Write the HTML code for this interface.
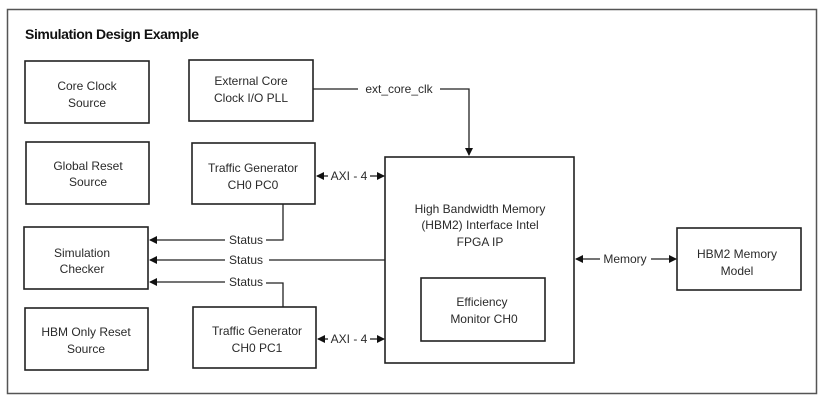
<!DOCTYPE html>
<html><head><style>
body{margin:0;background:#fff;}
svg text{font-family:"Liberation Sans",sans-serif;font-size:12px;fill:#2a2a2a;}
</style></head><body>
<svg width="826" height="406" xmlns="http://www.w3.org/2000/svg">
<defs><marker id="a" markerWidth="8" markerHeight="8" refX="7" refY="4" orient="auto" markerUnits="userSpaceOnUse"><path d="M0,0 L8,4 L0,8 z" fill="#111"/></marker></defs>
<rect x="7.5" y="9.5" width="809" height="384" fill="none" stroke="#555" stroke-width="1.5"/>
<text x="25" y="39" style="font-weight:bold;font-size:14px;fill:#111;letter-spacing:-0.4px">Simulation Design Example</text>
<g fill="none" stroke="#222" stroke-width="1.6">
<rect x="25" y="61" width="124" height="62"/>
<rect x="189" y="60" width="124" height="61"/>
<rect x="26" y="142" width="123" height="62"/>
<rect x="192" y="143" width="123" height="61"/>
<rect x="24" y="227" width="124" height="62"/>
<rect x="25" y="308" width="123" height="62"/>
<rect x="193" y="307" width="123" height="61"/>
<rect x="385" y="157" width="189" height="206"/>
<rect x="421" y="278" width="124" height="63"/>
<rect x="677" y="228" width="124" height="62"/>
</g>
<g stroke="#222" stroke-width="1.3" fill="none">
<path d="M313,89 H358 M440,89 H469 V155" marker-end="url(#a)"/>
<path d="M328,176 H317" marker-end="url(#a)"/><path d="M370,176 H384" marker-end="url(#a)"/>
<path d="M328,339 H318" marker-end="url(#a)"/><path d="M370,339 H384" marker-end="url(#a)"/>
<path d="M283,204 V240 H266"/><path d="M225,240 H150" marker-end="url(#a)"/>
<path d="M385,260 H269"/><path d="M225,260 H150" marker-end="url(#a)"/>
<path d="M283,307 V283 H266"/><path d="M225,282 H150" marker-end="url(#a)"/>
<path d="M600,259 H576" marker-end="url(#a)"/><path d="M651,259 H676" marker-end="url(#a)"/>
</g>
<g text-anchor="middle">
<text x="87" y="90">Core Clock</text><text x="87" y="107">Source</text>
<text x="251" y="85">External Core</text><text x="251" y="102">Clock  I/O PLL</text>
<text x="88" y="170">Global Reset</text><text x="88" y="186">Source</text>
<text x="253" y="172">Traffic Generator</text><text x="253" y="189">CH0  PC0</text>
<text x="82" y="257">Simulation</text><text x="82" y="273">Checker</text>
<text x="86" y="336">HBM Only Reset</text><text x="86" y="353">Source</text>
<text x="257" y="335">Traffic Generator</text><text x="257" y="352">CH0  PC1</text>
<text x="480" y="213">High Bandwidth Memory</text><text x="480" y="229">(HBM2) Interface Intel</text><text x="480" y="246">FPGA IP</text>
<text x="482" y="306">Efficiency</text><text x="484" y="323">Monitor CH0</text>
<text x="737" y="258">HBM2  Memory</text><text x="737" y="275">Model</text>
<text x="399" y="93">ext_core_clk</text>
<text x="349" y="180">AXI - 4</text><text x="349" y="343">AXI - 4</text>
<text x="246" y="244">Status</text><text x="246" y="264">Status</text><text x="246" y="286">Status</text>
<text x="625" y="263">Memory</text>
</g>
</svg>
</body></html>
